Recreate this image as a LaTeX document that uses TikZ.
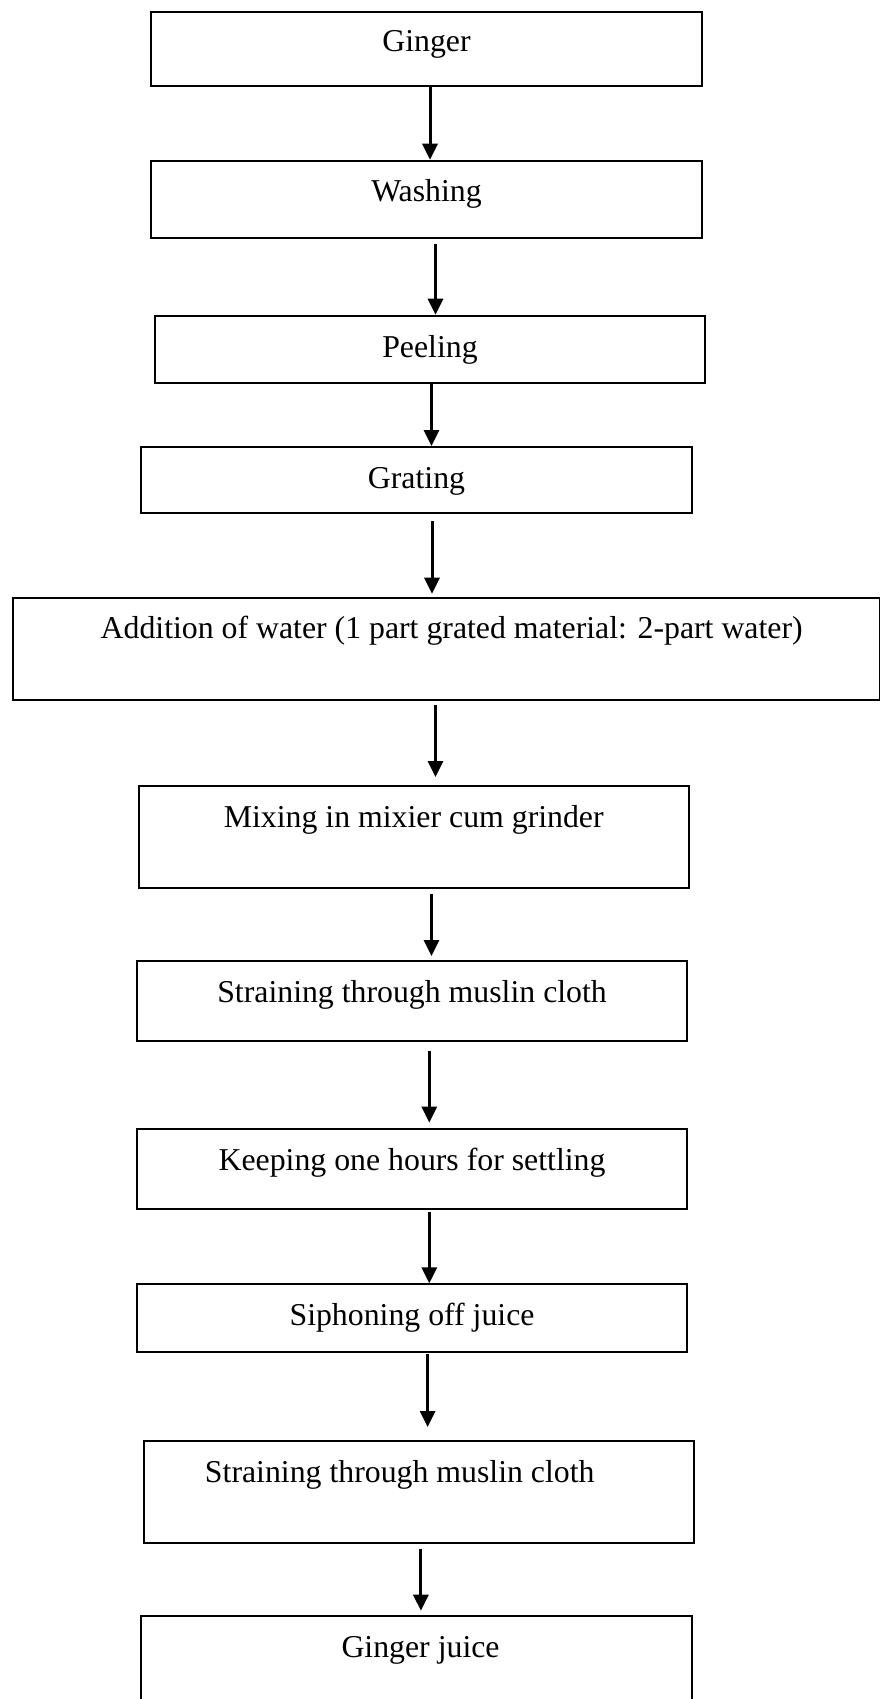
\documentclass[tikz,border=0pt]{standalone}
\usepackage{fontspec}
\setmainfont{Liberation Serif}
\usetikzlibrary{arrows.meta}
\begin{document}
\begin{tikzpicture}[x=1pt,y=-1pt,
  box/.style={draw, line width=2pt, inner sep=0pt, anchor=north west,
    font=\fontsize{31.8}{38}\selectfont},
  arr/.style={line width=3pt, -{Triangle[length=16pt,width=15pt]}}]
\useasboundingbox (0,0) rectangle (880,1699);
\clip (0,0) rectangle (880,1699);
\node[box, minimum width=551pt, minimum height=73.7pt, text height=40pt, text depth=33.7pt] (ginger) at (150,11) {Ginger};
\node[box, minimum width=551pt, minimum height=77.3pt, text height=40.3pt, text depth=37pt] (washing) at (150,159.7) {Washing};
\node[box, minimum width=550pt, minimum height=67.6pt, text height=41.3pt, text depth=26.3pt] (peeling) at (154,314.7) {Peeling};
\node[box, minimum width=551pt, minimum height=66pt, text height=41.7pt, text depth=24.3pt] (grating) at (140,446) {Grating};
\node[box, minimum width=866.7pt, minimum height=102pt, text height=40.6pt, text depth=61.4pt] (water) at (12.3,596.7) {\hspace*{10pt}Addition of water (1 part grated material: 2-part water)};
\node[box, minimum width=550.5pt, minimum height=102.3pt, text height=41.7pt, text depth=60.6pt] (mixing) at (137.5,785) {Mixing in mixier cum grinder};
\node[box, minimum width=550.5pt, minimum height=80.3pt, text height=41pt, text depth=39.3pt] (strainA) at (135.8,960) {Straining through muslin cloth};
\node[box, minimum width=550.5pt, minimum height=79.7pt, text height=41pt, text depth=38.7pt] (keeping) at (135.8,1128.3) {Keeping one hours for settling};
\node[box, minimum width=550.5pt, minimum height=67.4pt, text height=40.7pt, text depth=26.7pt] (siphon) at (135.8,1283.3) {Siphoning off juice};
\node[box, minimum width=550.5pt, minimum height=102pt, text height=41pt, text depth=61pt] (strainB) at (142.5,1440) {Straining through muslin cloth\hspace*{38pt}};
\node[box, minimum width=550.5pt, minimum height=102.3pt, text height=41.3pt, text depth=61pt] (juice) at (140.3,1614.7) {\hspace*{8pt}Ginger juice};
\coordinate (c1) at (430,0);
\coordinate (c2) at (435.5,0);
\coordinate (c3) at (431.5,0);
\coordinate (c4) at (432,0);
\coordinate (c5) at (435.5,0);
\coordinate (c6) at (431.5,0);
\coordinate (c7) at (429.3,0);
\coordinate (c8) at (429.3,0);
\coordinate (c9) at (427.6,0);
\coordinate (c10) at (420.9,0);
\draw[arr] (ginger.south -| c1) -- (washing.north -| c1);
\draw[arr, shorten <=5pt] (washing.south -| c2) -- (peeling.north -| c2);
\draw[arr] (peeling.south -| c3) -- (grating.north -| c3);
\draw[arr, shorten <=7pt, shorten >=3pt] (grating.south -| c4) -- (water.north -| c4);
\draw[arr, shorten <=4pt, shorten >=8pt] (water.south -| c5) -- (mixing.north -| c5);
\draw[arr, shorten <=5pt, shorten >=4pt] (mixing.south -| c6) -- (strainA.north -| c6);
\draw[arr, shorten <=9pt, shorten >=5.6pt] (strainA.south -| c7) -- (keeping.north -| c7);
\draw[arr, shorten <=2pt] (keeping.south -| c8) -- (siphon.north -| c8);
\draw[arr, shorten <=1.6pt, shorten >=13pt] (siphon.south -| c9) -- (strainB.north -| c9);
\draw[arr, shorten <=4.7pt, shorten >=4pt] (strainB.south -| c10) -- (juice.north -| c10);
\end{tikzpicture}
\end{document}
